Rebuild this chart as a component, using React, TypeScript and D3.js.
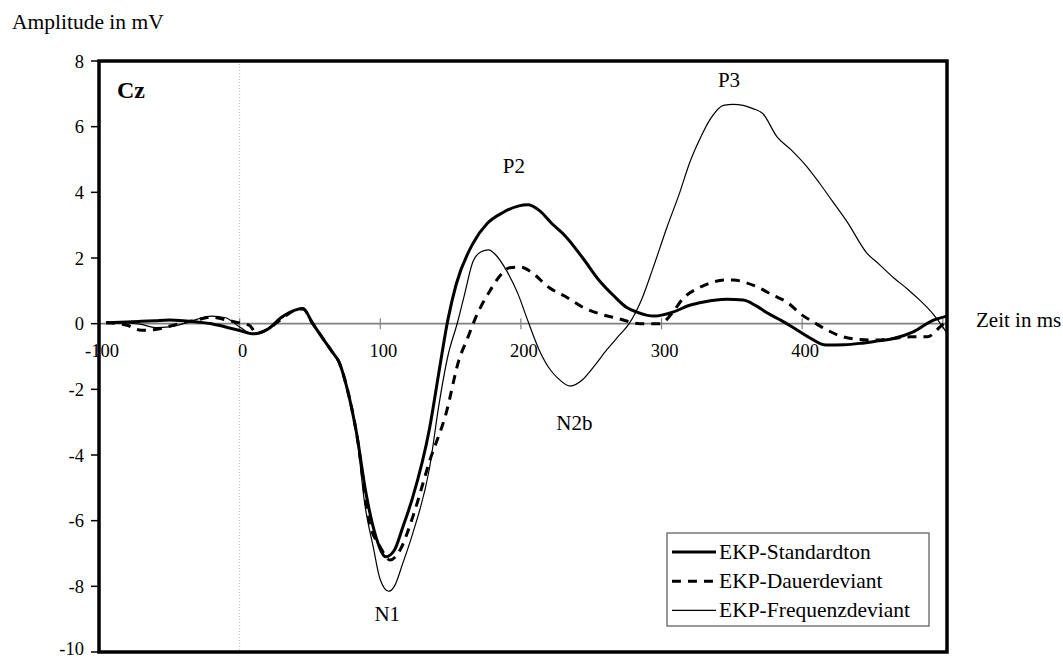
import React from "react";
import * as d3 from "d3";

// Event-related potentials at electrode Cz (time in ms, amplitude in mV)
const standardTime = [-95, -80, -70, -60, -50, -40, -30, -20, -10, 0, 10, 20, 30, 40, 45, 52, 60, 66, 71, 76, 83, 90, 97, 104, 110, 116, 123, 135, 142, 148, 154, 166, 176, 187, 198, 205, 213, 222, 232, 244, 256, 266, 275, 282, 295, 308, 320, 330, 346, 358, 367, 375, 385, 393, 405, 417, 430, 441, 453, 465, 479, 493, 503];
const standardValues = [0.03, 0.05, 0.07, 0.09, 0.11, 0.09, 0.05, 0.0, -0.1, -0.21, -0.31, -0.17, 0.2, 0.42, 0.46, 0.0, -0.5, -0.87, -1.2, -1.9, -3.3, -5.2, -6.5, -7.1, -6.9, -6.2, -5.3, -3.2, -1.4, 0.1, 1.2, 2.45, 3.05, 3.38, 3.58, 3.62, 3.45, 3.05, 2.65, 2.0, 1.3, 0.85, 0.5, 0.36, 0.23, 0.35, 0.56, 0.66, 0.74, 0.72, 0.55, 0.33, 0.1, -0.1, -0.42, -0.65, -0.64, -0.6, -0.53, -0.45, -0.25, 0.1, 0.23];

const durationTime = [-95, -80, -70, -60, -50, -40, -30, -20, -10, 0, 7, 12, 20, 30, 40, 45, 52, 60, 66, 71, 76, 83, 92, 100, 107, 114, 123, 135, 147, 156, 162, 168, 178, 185, 192, 200, 208, 220, 232, 244, 256, 268, 285, 299, 308, 315, 327, 334, 345, 351, 360, 368, 380, 389, 400, 408, 418, 429, 440, 453, 465, 477, 489, 498, 503];
const durationValues = [0.03, -0.05, -0.2, -0.18, -0.08, 0.03, 0.12, 0.2, 0.12, 0.02, -0.05, -0.29, -0.17, 0.15, 0.42, 0.45, 0.0, -0.5, -0.87, -1.2, -1.9, -3.3, -6.0, -6.8, -7.2, -6.9, -5.9, -4.2, -2.7, -1.1, -0.45, 0.2, 1.0, 1.45, 1.7, 1.72, 1.55, 1.1, 0.82, 0.5, 0.3, 0.17, 0.0, 0.0, 0.35, 0.75, 1.1, 1.23, 1.33, 1.33, 1.25, 1.12, 0.85, 0.66, 0.26, 0.05, -0.2, -0.4, -0.48, -0.5, -0.45, -0.4, -0.4, -0.1, 0.1];

const frequencyTime = [-95, -80, -70, -60, -50, -40, -30, -20, -10, 0, 10, 20, 30, 40, 45, 52, 60, 66, 71, 76, 83, 89, 95, 100, 106, 110, 116, 123, 135, 142, 148, 155, 160, 166, 172, 177, 182, 190, 198, 204, 213, 220, 226, 235, 244, 252, 261, 270, 277, 286, 294, 304, 313, 320, 327, 335, 344, 351, 358, 365, 372, 382, 392, 403, 412, 422, 432, 446, 455, 465, 475, 484, 493, 500, 503];
const frequencyValues = [0.03, 0.02, -0.02, -0.12, -0.1, 0.0, 0.14, 0.23, 0.18, -0.1, -0.33, -0.15, 0.17, 0.43, 0.46, 0.0, -0.5, -0.87, -1.2, -1.9, -3.3, -5.5, -6.8, -7.8, -8.15, -8.0, -7.3, -6.4, -4.4, -2.4, -1.0, 0.05, 0.9, 1.9, 2.2, 2.25, 2.1, 1.6, 0.9, 0.2, -0.8, -1.35, -1.65, -1.9, -1.7, -1.3, -0.8, -0.35, 0.0, 0.75, 1.7, 2.95, 4.0, 4.9, 5.6, 6.25, 6.65, 6.68, 6.65, 6.55, 6.4, 5.7, 5.3, 4.8, 4.3, 3.7, 3.1, 2.15, 1.8, 1.4, 1.05, 0.7, 0.3, -0.1, -0.3];

const yTicks = [-10, -8, -6, -4, -2, 0, 2, 4, 6, 8];
const xTickLabels = ["-100", "0", "100", "200", "300", "400"];
const xTickMarks = [-100, 0, 100, 200, 300, 400, 500];

const seriesNames = ["EKP-Standardton", "EKP-Dauerdeviant", "EKP-Frequenzdeviant"];

const peakLabels = [
  { text: "P2", t: 195, v: 4.6 },
  { text: "P3", t: 348, v: 7.2 },
  { text: "N2b", t: 238, v: -3.25 },
  { text: "N1", t: 105, v: -9.05 },
];

const FONT = "'Liberation Serif', 'Times New Roman', serif";

type Pt = [number, number];
const zipSeries = (ts: number[], vs: number[]): Pt[] => ts.map((t, i) => [t, vs[i]]);

export default function App() {
  const W = 1063;
  const H = 659;
  const x = d3.scaleLinear().domain([-100, 503]).range([99, 947]);
  const y = d3.scaleLinear().domain([-10, 8]).range([652, 61]);

  const line = d3
    .line<Pt>()
    .x((d) => x(d[0]))
    .y((d) => y(d[1]))
    .curve(d3.curveMonotoneX);

  const styles = [
    { stroke: "#000", width: 3, dash: undefined as string | undefined },
    { stroke: "#000", width: 3, dash: "9,7" },
    { stroke: "#000", width: 1.2, dash: undefined as string | undefined },
  ];
  const data: Pt[][] = [
    zipSeries(standardTime, standardValues),
    zipSeries(durationTime, durationValues),
    zipSeries(frequencyTime, frequencyValues),
  ];

  const [x0, x1] = x.range();
  const [yb, yt] = y.range();
  const y0 = y(0);

  const legend = { x: 667, y: 533, w: 262, h: 93 };

  return (
    <svg
      width={W}
      height={H}
      style={{ position: "absolute", left: 0, top: 0, background: "#fff" }}
      fontFamily={FONT}
    >
      <rect x={0} y={0} width={W} height={H} fill="#fff" />

      {/* axis title */}
      <text x={12} y={29} fontSize={21.5} fill="#000">
        Amplitude in mV
      </text>

      {/* y ticks and labels; the lowest label is lifted to stay inside the canvas */}
      {yTicks.map((v, i) => (
        <g key={v}>
          <line x1={91} x2={x0} y1={y(v)} y2={y(v)} stroke="#000" strokeWidth={1.5} />
          <text x={84} y={i === 0 ? y(v) + 3 : y(v) + 6.5} textAnchor="end" fontSize={18.5} fill="#000">
            {v}
          </text>
        </g>
      ))}

      {/* stimulus onset */}
      <line x1={x(0)} x2={x(0)} y1={yt} y2={yb} stroke="#bbb" strokeWidth={1} strokeDasharray="1,2" />

      {/* zero line with ticks */}
      <line x1={x0} x2={x1} y1={y0} y2={y0} stroke="#808080" strokeWidth={1.6} />
      {xTickMarks.map((t) => (
        <line key={t} x1={x(t)} x2={x(t)} y1={y0 - 5.5} y2={y0 + 5.5} stroke="#808080" strokeWidth={1.2} />
      ))}
      {xTickLabels.map((s) => (
        <text key={s} x={x(+s) + 3} y={357} textAnchor="middle" fontSize={18.5} fill="#000">
          {s}
        </text>
      ))}

      {/* ERP curves */}
      {data.map((d, i) => (
        <path
          key={seriesNames[i]}
          d={line(d) ?? ""}
          fill="none"
          stroke={styles[i].stroke}
          strokeWidth={styles[i].width}
          strokeDasharray={styles[i].dash}
          strokeLinejoin="round"
        />
      ))}

      {/* component labels */}
      {peakLabels.map((p) => (
        <text key={p.text} x={x(p.t)} y={y(p.v)} textAnchor="middle" fontSize={21} fill="#000">
          {p.text}
        </text>
      ))}

      <text x={117} y={98} fontSize={24} fontWeight="bold" fill="#000">
        Cz
      </text>

      {/* plot frame */}
      <rect x={x0} y={yt} width={x1 - x0} height={yb - yt} fill="none" stroke="#000" strokeWidth={3.5} />

      <text x={976} y={327} fontSize={21} fill="#000">
        Zeit in ms
      </text>

      {/* legend */}
      <rect x={legend.x} y={legend.y} width={legend.w} height={legend.h} fill="#fff" stroke="#555" strokeWidth={1.2} />
      {seriesNames.map((name, i) => {
        const cy = 552 + i * 29.2;
        return (
          <g key={name}>
            <line
              x1={672}
              x2={716}
              y1={cy}
              y2={cy}
              stroke="#000"
              strokeWidth={styles[i].width}
              strokeDasharray={styles[i].dash}
            />
            <text x={719} y={cy + 6.5} fontSize={21.5} fill="#000">
              {name}
            </text>
          </g>
        );
      })}
    </svg>
  );
}
